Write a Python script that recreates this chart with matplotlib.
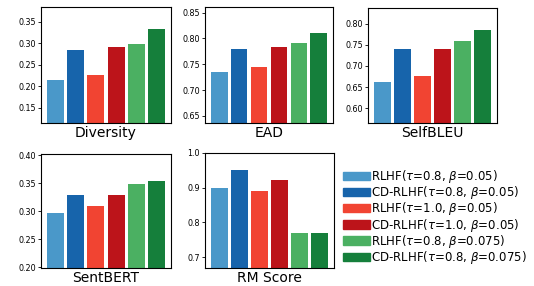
import numpy as np
import matplotlib
matplotlib.use("Agg")
from matplotlib import pyplot as plt
from matplotlib.patches import Patch

# methods / legend labels
labels = [
    r"RLHF($\tau$=0.8, $\beta$=0.05)",
    r"CD-RLHF($\tau$=0.8, $\beta$=0.05)",
    r"RLHF($\tau$=1.0, $\beta$=0.05)",
    r"CD-RLHF($\tau$=1.0, $\beta$=0.05)",
    r"RLHF($\tau$=0.8, $\beta$=0.075)",
    r"CD-RLHF($\tau$=0.8, $\beta$=0.075)",
]
colors = ["#4a98c9", "#1764ab", "#f14432", "#bc141a", "#4bb062", "#157f3b"]

# values
diversity = [0.213, 0.283, 0.225, 0.290, 0.299, 0.332]
ead = [0.734, 0.779, 0.744, 0.783, 0.792, 0.810]
selfbleu = [0.663, 0.741, 0.677, 0.739, 0.760, 0.786]
sentbert = [0.297, 0.329, 0.310, 0.329, 0.348, 0.354]
rm_score = [0.900, 0.950, 0.890, 0.921, 0.770, 0.770]

W, H = 534, 286


def px_axes(fig, left, top, right, bottom):
    return fig.add_axes([left / W, (H - bottom) / H, (right - left) / W, (bottom - top) / H])


def draw(ax, vals, name, ylim, ticks):
    x = np.arange(len(vals))
    ax.bar(x, vals, width=0.84, color=colors)
    ax.set_ylim(*ylim)
    ax.set_yticks(ticks)
    ax.set_yticklabels(["%.2f" % t if len(ticks) > 4 else "%.1f" % t for t in ticks])
    ax.set_xticks([])
    ax.set_xlabel(name, fontsize=10, labelpad=2)
    ax.tick_params(axis="y", labelsize=5.8, length=2.2, width=0.6, pad=1.5)
    for s in ax.spines.values():
        s.set_linewidth(0.8)


fig = plt.figure(figsize=(W / 100, H / 100), dpi=100)

ax1 = px_axes(fig, 41, 7, 171, 123)
draw(ax1, diversity, "Diversity", (0.114, 0.384), [0.15, 0.20, 0.25, 0.30, 0.35])

ax2 = px_axes(fig, 205, 7, 333, 123)
draw(ax2, ead, "EAD", (0.636, 0.861), [0.65, 0.70, 0.75, 0.80, 0.85])

ax3 = px_axes(fig, 368, 8, 497, 123)
draw(ax3, selfbleu, "SelfBLEU", (0.565, 0.837), [0.60, 0.65, 0.70, 0.75, 0.80])

ax4 = px_axes(fig, 41, 154, 171, 268)
draw(ax4, sentbert, "SentBERT", (0.199, 0.402), [0.20, 0.25, 0.30, 0.35, 0.40])

ax5 = px_axes(fig, 205, 153, 334, 268)
draw(ax5, rm_score, "RM Score", (0.669, 1.0), [0.7, 0.8, 0.9, 1.0])

handles = [Patch(color=c) for c in colors]
fig.legend(handles, labels, loc="upper left", bbox_to_anchor=(343 / W, 1 - 168 / H),
           frameon=False, fontsize=8.5, handlelength=2.3, handleheight=0.7,
           handletextpad=0.1, labelspacing=-0.07, borderpad=0, borderaxespad=0)

fig.savefig("out.png", dpi=100)
